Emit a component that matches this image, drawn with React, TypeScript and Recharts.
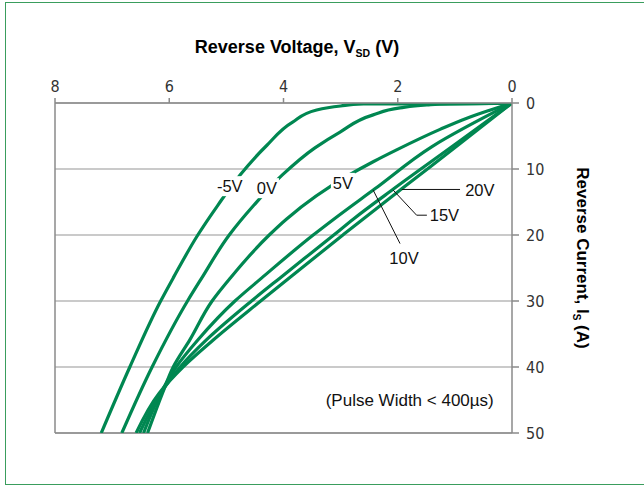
import React from "react";
import {
  LineChart,
  Line,
  XAxis,
  YAxis,
  CartesianGrid,
  ReferenceLine,
  ReferenceDot,
} from "recharts";

// reverse voltage (V) and reverse current (A), high current first
const vNeg5 = [7.19, 6.69, 6.15, 5.93, 5.5, 5.15, 4.76, 4.29, 3.84, 3.42, 3.0, 2.6, 1.4, 0];
const iNeg5 = [50, 40, 30, 26.5, 20, 15.5, 10.9, 6.4, 2.9, 1.06, 0.45, 0.15, 0.12, 0];

const v0 = [6.83, 6.3, 5.68, 5.43, 4.95, 4.52, 4.02, 3.45, 3.01, 2.43, 1.96, 1.49, 1.1, 0];
const i0 = [50, 40, 30, 26.5, 20, 15.5, 10.9, 6.8, 4.4, 1.8, 0.75, 0.3, 0.15, 0];

const v5 = [6.38, 6.12, 5.93, 5.64, 5.25, 4.93, 4.25, 3.95, 2.85, 2.43, 2.02, 1.26, 0.79, 0.39, 0];
const i5 = [50, 44, 40, 35.9, 30, 26.5, 20, 17.6, 10.9, 8.9, 7.1, 4.0, 2.3, 1.1, 0];

const v10 = [6.45, 6.15, 5.88, 5.5, 4.85, 4.38, 3.48, 3.12, 2.4, 1.4, 0];
const i10 = [50, 44, 40, 35.9, 30, 26.5, 20, 17.6, 13, 6.6, 0];

const v15 = [6.52, 6.15, 5.81, 5.35, 4.56, 4.06, 3.12, 2.78, 2.07, 1.0, 0];
const i15 = [50, 44, 40, 35.9, 30, 26.5, 20, 17.6, 13, 6.3, 0];

const v20 = [6.58, 6.18, 5.76, 5.23, 4.4, 3.9, 2.96, 2.61, 1.93, 0.93, 0];
const i20 = [50, 44, 40, 35.9, 30, 26.5, 20, 17.6, 13, 6.3, 0];

const voltageTicks = [0, 2, 4, 6, 8];
const currentTicks = [0, 10, 20, 30, 40, 50];

const series = [
  { name: "-5V", v: vNeg5, i: iNeg5 },
  { name: "0V", v: v0, i: i0 },
  { name: "5V", v: v5, i: i5 },
  { name: "10V", v: v10, i: i10 },
  { name: "15V", v: v15, i: i15 },
  { name: "20V", v: v20, i: i20 },
];

const GREEN = "#008751";
const TICK_FONT = "'Liberation Sans Narrow', 'DejaVu Sans Condensed', 'Roboto', sans-serif";
const TEXT_FONT = "'Liberation Sans', Arial, sans-serif";

function CurveTag({ cx, cy, text, boxed, anchor = "middle", size = 16.5 }: any) {
  const w = text.length * 10 + 4;
  return (
    <g>
      {boxed && <rect x={cx - w / 2} y={cy - 10} width={w} height={20} fill="#fff" />}
      <text
        x={cx}
        y={cy}
        textAnchor={anchor}
        dominantBaseline="central"
        fontSize={size}
        fontFamily={TEXT_FONT}
        fill="#111"
      >
        {text}
      </text>
    </g>
  );
}

export default function App() {
  return (
    <div
      style={{
        position: "absolute",
        left: 0,
        top: 0,
        width: 644,
        height: 487,
        overflow: "hidden",
        background: "#fff",
      }}
    >
      <div
        style={{
          position: "absolute",
          left: 5,
          top: 2,
          width: 680,
          height: 481,
          border: "1.5px solid #3a9d5d",
        }}
      />
      <div style={{ position: "absolute", left: 0, top: 0 }}>
        <LineChart width={644} height={487} margin={{ top: 73, right: 92, bottom: 54, left: 55 }}>
          <CartesianGrid vertical={false} stroke="#b8b8b8" strokeWidth={1.5} />
          <XAxis
            type="number"
            dataKey="v"
            orientation="top"
            reversed
            domain={[0, 8]}
            ticks={voltageTicks}
            allowDataOverflow
            height={30}
            tickSize={5}
            tickMargin={6}
            stroke="#8a8a8a"
            strokeWidth={1.5}
            tick={{ fontSize: 16, fill: "#333", fontFamily: TICK_FONT }}
          />
          <YAxis
            type="number"
            dataKey="i"
            orientation="right"
            reversed
            domain={[0, 50]}
            ticks={currentTicks}
            allowDataOverflow
            width={40}
            tickSize={7}
            tickMargin={7}
            stroke="#8a8a8a"
            strokeWidth={1.5}
            tick={{ fontSize: 16, fill: "#333", fontFamily: TICK_FONT }}
          />
          <ReferenceLine x={8} stroke="#8a8a8a" strokeWidth={1.5} />
          <ReferenceLine y={50} stroke="#8a8a8a" strokeWidth={1.5} />
          {series.map((s) => (
            <Line
              key={s.name}
              name={s.name}
              data={s.v.map((v, k) => ({ v, i: s.i[k] }))}
              dataKey="i"
              type="monotoneY"
              stroke={GREEN}
              strokeWidth={3.2}
              dot={false}
              activeDot={false}
              isAnimationActive={false}
            />
          ))}

          <ReferenceLine segment={[{ x: 2.43, y: 13.2 }, { x: 1.96, y: 21.3 }]} stroke="#111" strokeWidth={1} />
          <ReferenceLine segment={[{ x: 2.08, y: 13.2 }, { x: 1.67, y: 17 }]} stroke="#111" strokeWidth={1} />
          <ReferenceLine segment={[{ x: 1.67, y: 17 }, { x: 1.49, y: 17 }]} stroke="#111" strokeWidth={1} />
          <ReferenceLine segment={[{ x: 1.93, y: 13.1 }, { x: 0.91, y: 13.1 }]} stroke="#111" strokeWidth={1} />

          <ReferenceDot x={4.94} y={12.6} r={0} shape={(p: any) => <CurveTag cx={p.cx} cy={p.cy} text="-5V" boxed />} />
          <ReferenceDot x={4.29} y={12.9} r={0} shape={(p: any) => <CurveTag cx={p.cx} cy={p.cy} text="0V" boxed />} />
          <ReferenceDot x={2.96} y={12.1} r={0} shape={(p: any) => <CurveTag cx={p.cx} cy={p.cy} text="5V" boxed />} />
          <ReferenceDot x={1.89} y={23.5} r={0} shape={(p: any) => <CurveTag cx={p.cx} cy={p.cy} text="10V" />} />
          <ReferenceDot x={1.44} y={17} r={0} shape={(p: any) => <CurveTag cx={p.cx} cy={p.cy} text="15V" anchor="start" />} />
          <ReferenceDot x={0.82} y={13.2} r={0} shape={(p: any) => <CurveTag cx={p.cx} cy={p.cy} text="20V" anchor="start" />} />
          <ReferenceDot
            x={1.79}
            y={45}
            r={0}
            shape={(p: any) => <CurveTag cx={p.cx} cy={p.cy} text="(Pulse Width < 400µs)" size={17} />}
          />

          <text x={297} y={53} textAnchor="middle" fontSize={18} fontWeight="bold" fontFamily={TEXT_FONT} fill="#000">
            Reverse Voltage, V
            <tspan fontSize={10.5} dy={4}>SD</tspan>
            <tspan dy={-4}> (V)</tspan>
          </text>
          <text
            x={577}
            y={258}
            textAnchor="middle"
            fontSize={17}
            fontWeight="bold"
            fontFamily={TEXT_FONT}
            fill="#000"
            transform="rotate(90, 577, 258)"
          >
            Reverse Current, I
            <tspan fontSize={10} dy={4}>S</tspan>
            <tspan dy={-4}> (A)</tspan>
          </text>
        </LineChart>
      </div>
    </div>
  );
}
